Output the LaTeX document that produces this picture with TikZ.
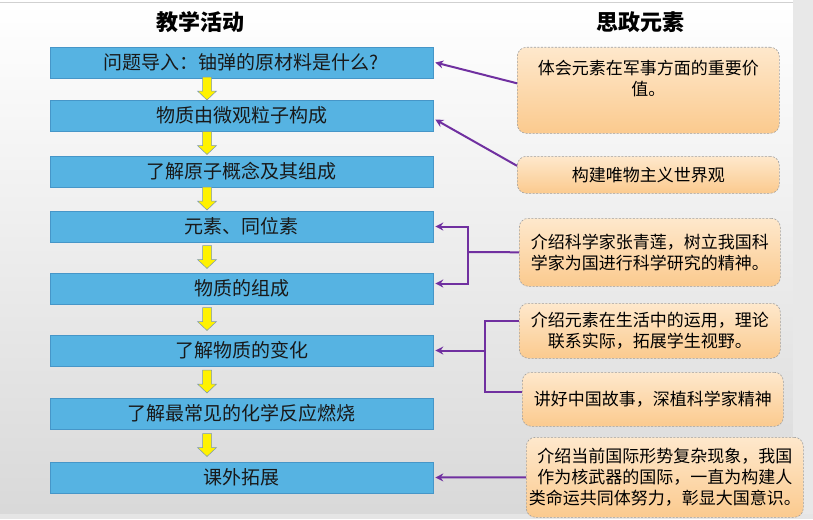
\documentclass[tikz,border=0pt]{standalone}
\usepackage{fontspec}
\setmainfont{Noto Sans CJK SC}
\usetikzlibrary{arrows.meta,calc}
\definecolor{bluebox}{RGB}{86,179,226}
\definecolor{bluedge}{RGB}{70,150,200}
\definecolor{orTop}{RGB}{254,232,204}
\definecolor{orBot}{RGB}{251,202,142}
\definecolor{purp}{RGB}{112,48,160}
\definecolor{yedge}{RGB}{120,150,180}
\begin{document}
\begin{tikzpicture}[x=1pt,y=-1pt,
 bbox/.style={draw=bluedge, line width=0.6pt, fill=bluebox, minimum width=383pt, minimum height=31pt, inner sep=0pt, font=\fontsize{19}{20}\selectfont, text=black!90},
 obox/.style={draw=gray!75, dash pattern=on 2pt off 1.5pt, line width=0.6pt, rounded corners=9pt, top color=orTop, bottom color=orBot, anchor=north west, inner sep=0pt, align=center, font=\fontsize{17}{21}\selectfont},
 otext/.style={inner sep=0pt, align=center, font=\fontsize{17}{21}\selectfont},
 pline/.style={draw=purp, line width=2pt},
 parrow/.style={pline, -{Stealth[length=8pt,width=8pt]}},
 yarr/.style={fill=yellow, draw=yedge, line width=0.5pt},
 title/.style={font=\fontsize{22}{24}\selectfont\bfseries},
 ydown/.pic={\path[yarr] (-4.5,-12) -- (4.5,-12) -- (4.5,2) -- (9.5,2) -- (0,11) -- (-9.5,2) -- (-4.5,2) -- cycle;}
]
\useasboundingbox (0,0) rectangle (813,519);
\fill[white] (0,0) rectangle (813,519);
\shade[top color=white, bottom color=black!15] (0,3) rectangle (793,514);
\fill[black!9] (793,0) rectangle (813,519);
\fill[black!10] (0,514) rectangle (813,519);
\draw[black!18, line width=0.8pt] (0,2.5) -- (793,2.5);

% titles
\node[title] (t1) at (200,22) {教学活动};
\node[title] (t2) at (640,22) {思政元素};

% teaching steps
\node[bbox] (b1) at (241.5,62.5) {问题导入：铀弹的原材料是什么?};
\node[bbox] (b2) at (241.5,115.5) {物质由微观粒子构成};
\node[bbox] (b3) at (241.5,171.5) {了解原子概念及其组成};
\node[bbox] (b4) at (241.5,226.5) {元素、同位素};
\node[bbox] (b5) at (241.5,288.5) {物质的组成};
\node[bbox] (b6) at (241.5,350.5) {了解物质的变化};
\node[bbox] (b7) at (241.5,413.5) {了解最常见的化学反应燃烧};
\node[bbox] (b8) at (241.5,477.5) {课外拓展};

\foreach \a/\b in {b1/b2,b2/b3,b3/b4,b4/b5,b5/b6,b6/b7,b7/b8}
  \pic at ($(\a.south)!0.5!(\b.north)+(-34.5,0)$) {ydown};

% ideological elements
\node[obox, minimum width=262pt, minimum height=86pt] (o1) at (517,47) {};
\node[otext, anchor=north] (o1t) at ([yshift=-13pt]o1.north) {体会元素在军事方面的重要价\\值。};
\node[obox, minimum width=262pt, minimum height=37pt] (o2) at (517,156) {构建唯物主义世界观};
\node[obox, minimum width=261pt, minimum height=68pt] (o3) at (519,218) {介绍科学家张青莲，树立我国科\\学家为国进行科学研究的精神。};
\node[obox, minimum width=261pt, minimum height=55pt] (o4) at (519,303) {介绍元素在生活中的运用，理论\\联系实际，拓展学生视野。};
\node[obox, minimum width=261pt, minimum height=54pt] (o5) at (522,372) {讲好中国故事，深植科学家精神};
\node[obox, minimum width=277pt, minimum height=80pt] (o6) at (526,437) {介绍当前国际形势复杂现象，我国\\作为核武器的国际，一直为构建人\\类命运共同体努力，彰显大国意识。};

% connectors
\draw[parrow] ([yshift=7pt]o1.west) -- ([xshift=2pt]b1.east);
\draw[parrow] ([yshift=9pt]o2.west) -- ([xshift=2pt,yshift=-4pt]b2.east);

\coordinate (j1) at (468,252);
\draw[pline] (o3.west) -- (j1);
\draw[parrow] (j1) |- ([xshift=2pt]b4.east);
\draw[parrow] (j1) |- ([xshift=2pt,yshift=5pt]b5.east);

\coordinate (j2) at (485,350.5);
\draw[pline] ([yshift=10pt]o4.west) -| (j2) |- ([yshift=7pt]o5.west);
\draw[parrow] (j2) -- ([xshift=2pt]b6.east);

\draw[parrow] (o6.west) -- ([xshift=2pt]b8.east);
\end{tikzpicture}
\end{document}
